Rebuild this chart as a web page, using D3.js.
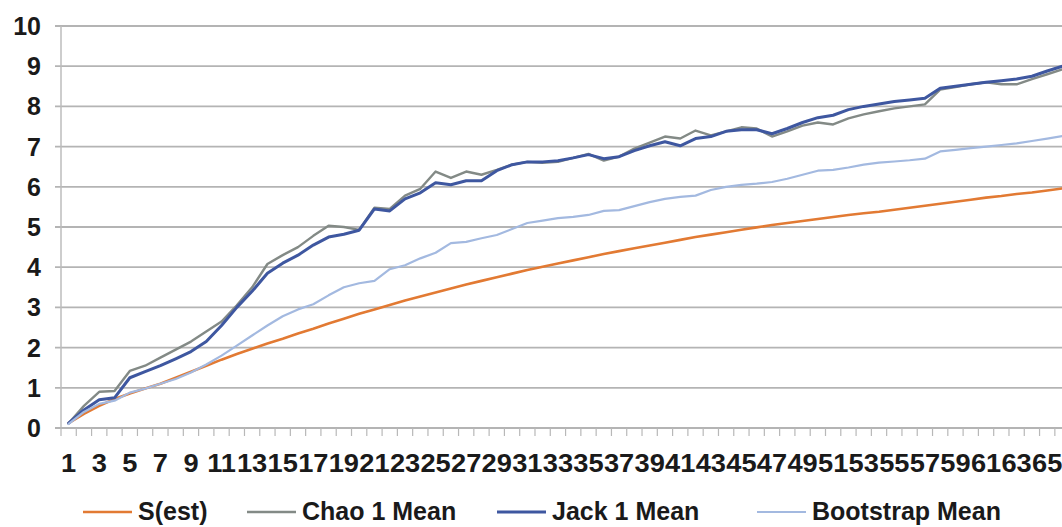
<!DOCTYPE html>
<html>
<head>
<meta charset="utf-8">
<script src="https://cdn.jsdelivr.net/npm/d3@7"></script>
<style>
  html, body { margin: 0; padding: 0; background: #ffffff; }
  svg { display: block; font-family: "Liberation Sans", Arial, sans-serif; }
</style>
</head>
<body>
<svg id="chart" width="1062" height="527"></svg>
<script>
// Sample counts (categories along the x axis)
const categories = d3.range(1, 67);

// Species accumulation estimates per sample count
const sEst = [0.12, 0.35, 0.55, 0.72, 0.86, 0.98, 1.1, 1.25, 1.4, 1.55,
  1.7, 1.84, 1.97, 2.1, 2.22, 2.35, 2.47, 2.6, 2.72, 2.84,
  2.95, 3.06, 3.17, 3.27, 3.37, 3.47, 3.57, 3.66, 3.75, 3.84,
  3.93, 4.01, 4.09, 4.17, 4.25, 4.33, 4.4, 4.47, 4.54, 4.61,
  4.68, 4.75, 4.81, 4.87, 4.93, 4.99, 5.05, 5.1, 5.15, 5.2,
  5.25, 5.3, 5.34, 5.38, 5.43, 5.48, 5.53, 5.58, 5.63, 5.68,
  5.73, 5.77, 5.82, 5.86, 5.91, 5.96];

const chao1 = [0.12, 0.55, 0.9, 0.92, 1.42, 1.55, 1.75, 1.95, 2.15, 2.4,
  2.65, 3.05, 3.5, 4.08, 4.3, 4.5, 4.78, 5.03, 5.0, 4.93,
  5.48, 5.45, 5.78, 5.95, 6.38, 6.22, 6.38, 6.3, 6.42, 6.55,
  6.62, 6.6, 6.62, 6.72, 6.82, 6.65, 6.75, 6.95, 7.1, 7.25,
  7.2, 7.4, 7.28, 7.38, 7.48, 7.45, 7.25, 7.38, 7.52, 7.6,
  7.55, 7.7, 7.8, 7.88, 7.95, 8.0, 8.05, 8.42, 8.48, 8.55,
  8.6, 8.55, 8.55, 8.68, 8.8, 8.92];

const jack1 = [0.12, 0.45, 0.7, 0.75, 1.25, 1.4, 1.55, 1.72, 1.9, 2.15,
  2.55, 3.0, 3.4, 3.85, 4.1, 4.3, 4.55, 4.75, 4.82, 4.92,
  5.45, 5.4, 5.7, 5.85, 6.1, 6.05, 6.15, 6.15, 6.4, 6.55,
  6.62, 6.62, 6.65, 6.72, 6.8, 6.7, 6.75, 6.9, 7.02, 7.12,
  7.02, 7.2, 7.25, 7.38, 7.42, 7.42, 7.32, 7.45, 7.6, 7.72,
  7.78, 7.92, 8.0, 8.06, 8.12, 8.16, 8.2, 8.45, 8.5, 8.55,
  8.6, 8.64, 8.68, 8.75, 8.88, 9.0];

const bootstrap = [0.1, 0.4, 0.6, 0.68, 0.88, 0.98, 1.1, 1.22, 1.38, 1.58,
  1.8, 2.05, 2.3, 2.55, 2.78, 2.95, 3.08, 3.3, 3.5, 3.6,
  3.66, 3.95, 4.05, 4.22, 4.36, 4.6, 4.63, 4.72, 4.8, 4.95,
  5.1, 5.16, 5.22, 5.25, 5.3, 5.4, 5.42, 5.52, 5.62, 5.7,
  5.75, 5.78, 5.92, 6.0, 6.05, 6.08, 6.12, 6.2, 6.3, 6.4,
  6.42, 6.48, 6.55, 6.6, 6.63, 6.66, 6.7, 6.88, 6.92, 6.96,
  7.0, 7.04, 7.08, 7.14, 7.2, 7.26];

const yTicks = d3.range(0, 11);

const seriesNames = ["S(est)", "Chao 1 Mean", "Jack 1 Mean", "Bootstrap Mean"];
const seriesValues = [sEst, chao1, jack1, bootstrap];
const seriesColors = ["#E27A33", "#838A86", "#3E57A0", "#A3B9E0"];
const seriesWidths = [2.6, 2.4, 3, 2.2];

const svg = d3.select("#chart");
const plotLeft = 61, plotTop = 26, plotBottom = 428, step = 15.29;

const x = d3.scaleBand()
  .domain(categories)
  .range([plotLeft, plotLeft + step * categories.length])
  .padding(0);
const y = d3.scaleLinear().domain([0, 10]).range([plotBottom, plotTop]);
const cx = c => x(c) + x.bandwidth() / 2;

svg.append("rect").attr("width", 1062).attr("height", 527).attr("fill", "#ffffff");

// Horizontal gridlines with short outside ticks
svg.append("g")
  .selectAll("line")
  .data(yTicks.filter(t => t > 0))
  .join("line")
  .attr("x1", plotLeft - 6)
  .attr("x2", 1062)
  .attr("y1", d => y(d))
  .attr("y2", d => y(d))
  .attr("stroke", "#b4b4b4")
  .attr("stroke-width", 1.8);

// Y axis line
svg.append("line")
  .attr("x1", plotLeft).attr("x2", plotLeft)
  .attr("y1", plotTop).attr("y2", plotBottom)
  .attr("stroke", "#bdbdbd").attr("stroke-width", 1.5);

// X axis line and tick marks between categories
svg.append("line")
  .attr("x1", plotLeft - 6).attr("x2", 1062)
  .attr("y1", y(0)).attr("y2", y(0))
  .attr("stroke", "#b4b4b4").attr("stroke-width", 1.8);

const boundaries = categories.map(c => x(c)).concat([x.range()[1]]);
svg.append("g")
  .selectAll("line")
  .data(boundaries)
  .join("line")
  .attr("x1", d => d).attr("x2", d => d)
  .attr("y1", y(0)).attr("y2", y(0) + 8)
  .attr("stroke", "#b8b8b8").attr("stroke-width", 1.2);

// Y tick labels
svg.append("g")
  .selectAll("text")
  .data(yTicks)
  .join("text")
  .attr("x", 41)
  .attr("y", d => y(d))
  .attr("dy", "0.36em")
  .attr("text-anchor", "end")
  .attr("font-size", 25)
  .attr("font-weight", "bold")
  .attr("fill", "#1a1a1a")
  .text(d => d);

// X tick labels (every other category), slightly widened
svg.append("g")
  .selectAll("text")
  .data(categories.filter(c => c % 2 === 1))
  .join("text")
  .attr("transform", d => `translate(${cx(d)},472) scale(1.09,1)`)
  .attr("text-anchor", "middle")
  .attr("font-size", 25)
  .attr("font-weight", "bold")
  .attr("fill", "#1a1a1a")
  .text(d => d);

// Series lines
const line = d3.line()
  .x((d, i) => cx(categories[i]))
  .y(d => y(d));

svg.append("g")
  .selectAll("path")
  .data(seriesValues)
  .join("path")
  .attr("d", d => line(d))
  .attr("fill", "none")
  .attr("stroke", (d, i) => seriesColors[i])
  .attr("stroke-width", (d, i) => seriesWidths[i])
  .attr("stroke-linejoin", "round")
  .attr("stroke-linecap", "round");

// Legend
const legendX = [83, 247, 497, 757];
const legend = svg.append("g")
  .selectAll("g")
  .data(seriesNames)
  .join("g")
  .attr("transform", (d, i) => `translate(${legendX[i]},0)`);

legend.append("line")
  .attr("x1", 0).attr("x2", 49)
  .attr("y1", 512).attr("y2", 512)
  .attr("stroke", (d, i) => seriesColors[i])
  .attr("stroke-width", (d, i) => seriesWidths[i]);

legend.append("text")
  .attr("x", 55)
  .attr("y", 520)
  .attr("font-size", 25)
  .attr("font-weight", "bold")
  .attr("fill", "#1a1a1a")
  .text(d => d);
</script>
</body>
</html>
